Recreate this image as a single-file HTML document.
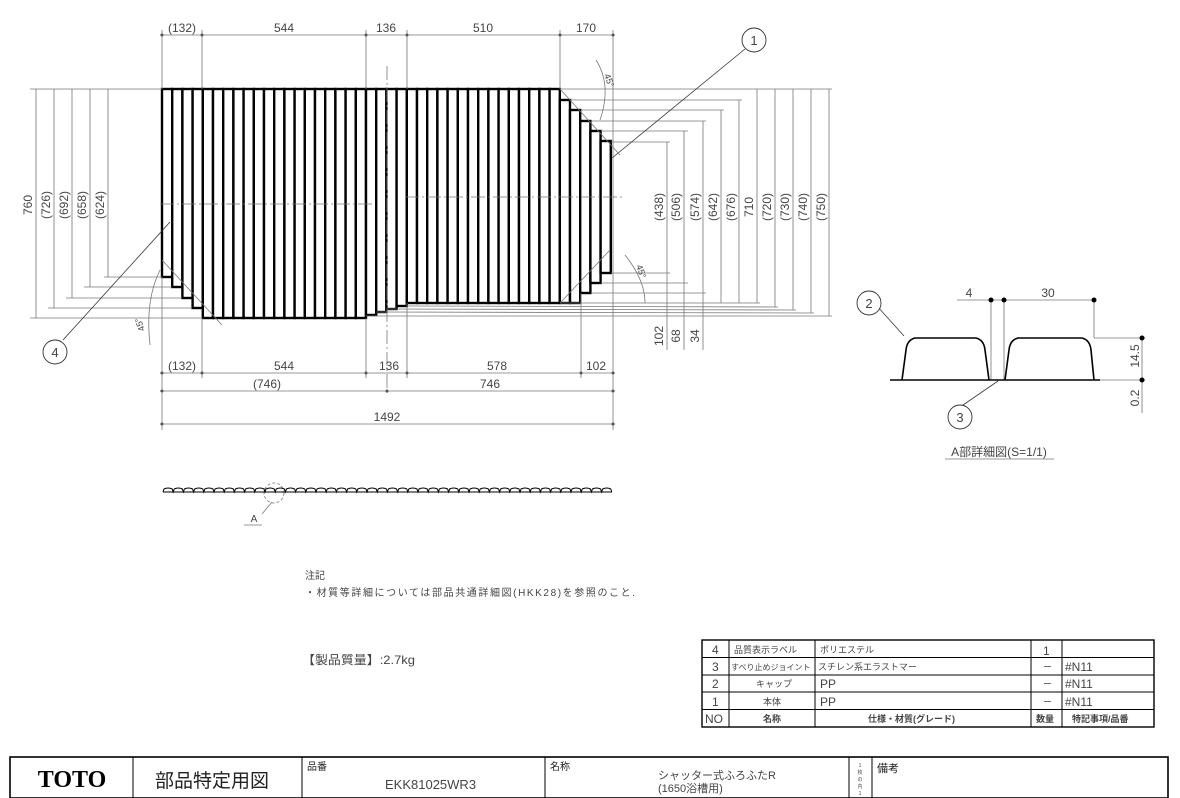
<!DOCTYPE html>
<html><head><meta charset="utf-8"><style>
html,body{margin:0;padding:0;background:#fff}
svg{display:block}
text{font-family:"Liberation Sans","Noto Sans CJK JP",sans-serif;fill:#444}
</style></head><body>
<svg id="s" width="1180" height="798" viewBox="0 0 1180 798" xmlns="http://www.w3.org/2000/svg">
<g id="strips" fill="#fff" stroke="#000" stroke-width="2.4"></g>
<g stroke="#777" stroke-width="0.8" fill="none">
<line x1="160" y1="35" x2="615" y2="35"/>
<line x1="162" y1="30" x2="162" y2="89"/><line x1="202" y1="30" x2="202" y2="89"/><line x1="366" y1="30" x2="366" y2="89"/><line x1="407" y1="30" x2="407" y2="89"/><line x1="560" y1="30" x2="560" y2="89"/><line x1="613" y1="30" x2="613" y2="430"/>
<line x1="30" y1="89" x2="162" y2="89"/>
<line x1="36" y1="89" x2="36" y2="318"/><line x1="54" y1="89" x2="54" y2="308"/><line x1="72" y1="89" x2="72" y2="298"/><line x1="90" y1="89" x2="90" y2="287"/><line x1="108" y1="89" x2="108" y2="277"/>
<line x1="30" y1="318" x2="202" y2="318"/><line x1="48" y1="308" x2="192" y2="308"/><line x1="66" y1="298" x2="182" y2="298"/><line x1="84" y1="287" x2="172" y2="287"/><line x1="104" y1="277" x2="162" y2="277"/>
<line x1="162" y1="277" x2="162" y2="430"/><line x1="202" y1="318" x2="202" y2="378"/><line x1="366" y1="318" x2="366" y2="378"/><line x1="407" y1="303" x2="407" y2="378"/><line x1="581" y1="293" x2="581" y2="378"/>
<line x1="160" y1="373" x2="615" y2="373"/><line x1="160" y1="391" x2="615" y2="391"/><line x1="160" y1="424" x2="615" y2="424"/>
<line x1="560" y1="89" x2="832" y2="89"/>
<line x1="571" y1="100" x2="742" y2="100"/><line x1="581" y1="110" x2="724" y2="110"/><line x1="591" y1="121" x2="706" y2="121"/><line x1="601" y1="131" x2="688" y2="131"/><line x1="611" y1="142" x2="670" y2="142"/>
<line x1="667" y1="142" x2="667" y2="350"/><line x1="684" y1="131" x2="684" y2="350"/><line x1="703" y1="121" x2="703" y2="350"/><line x1="721" y1="110" x2="721" y2="303"/><line x1="739" y1="100" x2="739" y2="303"/><line x1="757" y1="89" x2="757" y2="303"/><line x1="775" y1="89" x2="775" y2="307"/><line x1="793" y1="89" x2="793" y2="310"/><line x1="811" y1="89" x2="811" y2="313"/><line x1="829" y1="89" x2="829" y2="316"/>
<line x1="611" y1="273" x2="670" y2="273"/><line x1="601" y1="283" x2="688" y2="283"/><line x1="591" y1="293" x2="706" y2="293"/>
<line x1="560" y1="303" x2="760" y2="303"/><line x1="407" y1="306" x2="778" y2="307"/><line x1="387" y1="309" x2="796" y2="310"/><line x1="376" y1="312" x2="814" y2="313"/><line x1="366" y1="316" x2="832" y2="316"/>
<line x1="387" y1="66" x2="387" y2="395" stroke-dasharray="14 3 2 3"/>
<line x1="160" y1="204" x2="372" y2="204" stroke-dasharray="14 3 2 3"/>
<line x1="405" y1="197" x2="625" y2="197" stroke-dasharray="14 3 2 3"/>
<line x1="745" y1="49" x2="612" y2="158" stroke="#333"/>
<line x1="63" y1="340" x2="170" y2="222" stroke="#333"/>
<line x1="560" y1="89" x2="620" y2="155"/><line x1="560" y1="303" x2="610" y2="250"/>
<line x1="162" y1="260" x2="222" y2="325"/>
<path d="M596 60 Q612 85 600 120"/><path d="M625 255 Q645 280 645 303"/><path d="M160 270 Q145 300 150 345"/>
<line x1="957" y1="300" x2="1094" y2="300"/>
<line x1="991" y1="300" x2="991" y2="380"/><line x1="1004" y1="300" x2="1004" y2="380"/><line x1="1094" y1="300" x2="1094" y2="338"/>
<line x1="1094" y1="338" x2="1145" y2="338"/><line x1="1100" y1="380" x2="1145" y2="380"/>
<line x1="1142" y1="338" x2="1142" y2="413"/>
<line x1="877" y1="306" x2="904" y2="336" stroke="#333"/>
<line x1="963" y1="405" x2="998" y2="381" stroke="#333"/>
<line x1="945" y1="459" x2="1054" y2="459"/>
<circle cx="274" cy="493" r="10" stroke-dasharray="3 2"/>
<line x1="262" y1="514" x2="272" y2="502"/><line x1="244" y1="525" x2="262" y2="525"/>
</g>
<g fill="#555">
<circle cx="162" cy="35" r="1.5"/><circle cx="202" cy="35" r="1.5"/><circle cx="366" cy="35" r="1.5"/><circle cx="407" cy="35" r="1.5"/><circle cx="560" cy="35" r="1.5"/><circle cx="613" cy="35" r="1.5"/>
<circle cx="162" cy="373" r="1.5"/><circle cx="202" cy="373" r="1.5"/><circle cx="366" cy="373" r="1.5"/><circle cx="407" cy="373" r="1.5"/><circle cx="581" cy="373" r="1.5"/><circle cx="613" cy="373" r="1.5"/>
<circle cx="162" cy="391" r="1.5"/><circle cx="387" cy="391" r="1.5"/><circle cx="613" cy="391" r="1.5"/><circle cx="162" cy="424" r="1.5"/><circle cx="613" cy="424" r="1.5"/>
<circle cx="991" cy="300" r="2.5" fill="#000"/><circle cx="1004" cy="300" r="2.5" fill="#000"/><circle cx="1094" cy="300" r="2.5" fill="#000"/><circle cx="1142" cy="338" r="2.5" fill="#000"/><circle cx="1142" cy="380" r="2.5" fill="#000"/>
</g>
<g fill="#fff" stroke="#333" stroke-width="0.9">
<circle cx="754" cy="40" r="12"/><circle cx="55" cy="352" r="12"/><circle cx="869" cy="303" r="12"/><circle cx="960" cy="417" r="12"/>
</g>
<g font-size="13" text-anchor="middle">
<text x="754" y="45">1</text><text x="55" y="357">4</text><text x="869" y="308">2</text><text x="960" y="422">3</text>
</g>
<g fill="none" stroke="#000" stroke-width="1.6">
<line x1="890" y1="380" x2="1100" y2="380"/>
<path d="M902 380 L906 350 Q907 340 915 338 L976 338 Q984 340 985 350 L989 380"/>
<path d="M1005 380 L1009 350 Q1010 340 1018 338 L1082 338 Q1090 340 1091 350 L1094 380"/>
</g>
<path id="prof" fill="none" stroke="#000" stroke-width="1"/>
<g font-size="12" text-anchor="middle">
<text x="182" y="32">(132)</text><text x="284" y="32">544</text><text x="386" y="32">136</text><text x="483" y="32">510</text><text x="586" y="32">170</text>
<text x="182" y="370">(132)</text><text x="284" y="370">544</text><text x="389" y="370">136</text><text x="497" y="370">578</text><text x="596" y="370">102</text>
<text x="267" y="388">(746)</text><text x="490" y="388">746</text><text x="387" y="421">1492</text>
<g transform="rotate(-90)">
<text x="-205" y="32">760</text><text x="-205" y="50">(726)</text><text x="-205" y="68">(692)</text><text x="-205" y="86">(658)</text><text x="-205" y="104">(624)</text>
<text x="-207" y="663">(438)</text><text x="-207" y="680">(506)</text><text x="-207" y="699">(574)</text><text x="-207" y="717">(642)</text><text x="-207" y="735">(676)</text><text x="-207" y="753">710</text><text x="-207" y="771">(720)</text><text x="-207" y="789">(730)</text><text x="-207" y="807">(740)</text><text x="-207" y="825">(750)</text>
<text x="-336" y="663">102</text><text x="-336" y="680">68</text><text x="-336" y="699">34</text>
<text x="-356" y="1139">14.5</text><text x="-398" y="1139">0.2</text>
</g>
<text x="969" y="297">4</text><text x="1048" y="297">30</text>
<text x="999" y="456" font-size="12">A部詳細図(S=1/1)</text>
<text x="254" y="522" font-size="10">A</text>
</g>
<g font-size="9" fill="#555">
<text x="604" y="75" transform="rotate(70 604 75)">45°</text>
<text x="636" y="266" transform="rotate(70 636 266)">45°</text>
<text x="145" y="330" transform="rotate(-110 145 330)">45°</text>
</g>
<g font-size="10">
<text x="305" y="579">注記</text>
<text x="305" y="596" textLength="330" lengthAdjust="spacing">・材質等詳細については部品共通詳細図(HKK28)を参照のこと.</text>
<text x="302" y="664" font-size="12" textLength="113" lengthAdjust="spacingAndGlyphs">【製品質量】:2.7kg</text>
</g>
<g stroke="#000" stroke-width="1" fill="none">
<rect x="702" y="640" width="452" height="87" stroke-width="1.4"/>
<line x1="702" y1="657.5" x2="1154" y2="657.5"/><line x1="702" y1="675" x2="1154" y2="675"/><line x1="702" y1="692" x2="1154" y2="692"/><line x1="702" y1="709.5" x2="1154" y2="709.5"/>
<line x1="729" y1="640" x2="729" y2="727"/><line x1="815" y1="640" x2="815" y2="727"/><line x1="1031" y1="640" x2="1031" y2="727"/><line x1="1062" y1="640" x2="1062" y2="727"/>
</g>
<g font-size="9">
<text x="712" y="654" font-size="12">4</text><text x="734" y="653">品質表示ラベル</text><text x="820" y="653">ポリエステル</text><text x="1043" y="655" font-size="12">1</text>
<text x="712" y="671" font-size="12">3</text><text x="731" y="670" font-size="8">すべり止めジョイント</text><text x="818" y="670">スチレン系エラストマー</text><text x="1043" y="670">ー</text><text x="1065" y="671" font-size="12">#N11</text>
<text x="712" y="688" font-size="12">2</text><text x="756" y="687">キャップ</text><text x="820" y="688" font-size="12">PP</text><text x="1043" y="687">ー</text><text x="1065" y="688" font-size="12">#N11</text>
<text x="712" y="706" font-size="12">1</text><text x="763" y="705">本体</text><text x="820" y="706" font-size="12">PP</text><text x="1043" y="705">ー</text><text x="1065" y="706" font-size="12">#N11</text>
<text x="705" y="723" font-size="12">NO</text><text x="763" y="722" font-weight="bold">名称</text><text x="868" y="722" font-weight="bold">仕様・材質(グレード)</text><text x="1036" y="722" font-weight="bold">数量</text><text x="1072" y="722" font-weight="bold">特記事項/品番</text>
</g>
<g stroke="#000" fill="none">
<rect x="10" y="757" width="1158" height="41" stroke-width="1.6"/>
<line x1="133" y1="757" x2="133" y2="798"/><line x1="302" y1="757" x2="302" y2="798"/><line x1="545" y1="757" x2="545" y2="798"/><line x1="849" y1="757" x2="849" y2="798"/><line x1="872" y1="757" x2="872" y2="798"/>
</g>
<text x="72" y="787" text-anchor="middle" font-size="24" font-weight="bold" style="font-family:'Liberation Serif',serif;fill:#000">TOTO</text>
<text x="155" y="787" font-size="19" style="fill:#222">部品特定用図</text>
<text x="307" y="770" font-size="10" style="fill:#222">品番</text>
<text x="385" y="789" font-size="13">EKK81025WR3</text>
<text x="550" y="770" font-size="10" style="fill:#222">名称</text>
<text x="658" y="779" font-size="11">シャッター式ふろふたR</text>
<text x="658" y="792" font-size="11">(1650浴槽用)</text>
<text x="877" y="772" font-size="11" style="fill:#222">備考</text>
<text x="860" y="767" font-size="5" text-anchor="middle">1</text><text x="860" y="774" font-size="5" text-anchor="middle">枚</text><text x="860" y="781" font-size="5" text-anchor="middle">の</text><text x="860" y="788" font-size="5" text-anchor="middle">内</text><text x="860" y="795" font-size="5" text-anchor="middle">1</text>
</svg>
<script>
(function(){
var ns="http://www.w3.org/2000/svg",g=document.getElementById("strips");
for(var i=0;i<44;i++){var t=89,b=303;
if(i<4)b=[277,287,298,308][i];else if(i<20)b=318;else if(i<24)b=[315,312,309,306][i-20];
if(i>=39){t=[100,110,121,131,141][i-39];b=[303,303,293,283,273][i-39];}
var r=document.createElementNS(ns,"rect");var x=162+i*10.2;
r.setAttribute("x",x);r.setAttribute("y",t);r.setAttribute("width",10.2);r.setAttribute("height",b-t);g.appendChild(r);}
var d="M163 492";for(var x=163;x<610;x+=10.2){d+=" L"+(x+1)+" 489 Q"+(x+5.1)+" 487 "+(x+9.2)+" 489 L"+(x+10.2)+" 492";}
d+=" M163 492 L612 492";document.getElementById("prof").setAttribute("d",d);
})();
</script>
</body></html>
